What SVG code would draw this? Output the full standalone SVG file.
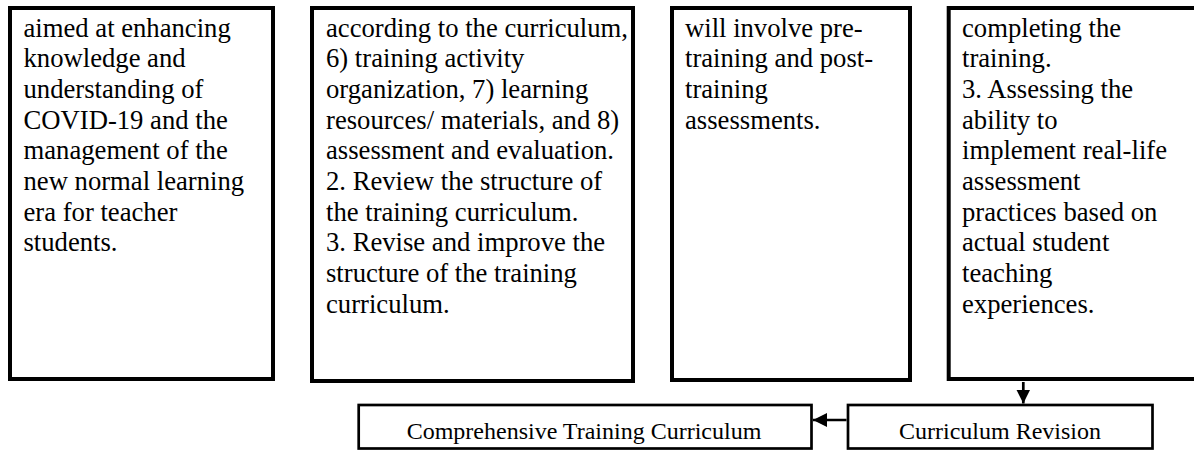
<svg xmlns="http://www.w3.org/2000/svg" width="1194" height="450" viewBox="0 0 1194 450">
<style>
.big{fill:#fff;stroke:#000;stroke-width:4}
.small{fill:#fff;stroke:#000;stroke-width:2.7}
.t{font-family:"Liberation Serif","Times New Roman",serif;font-size:26.67px;fill:#000}
.l{font-family:"Liberation Serif","Times New Roman",serif;font-size:24px;fill:#000;text-anchor:middle}
.c{stroke:#000;stroke-width:2.7;fill:none}
</style>
<defs>
<marker id="ah" viewBox="0 0 10 10" refX="10" refY="5" markerWidth="14" markerHeight="14" markerUnits="userSpaceOnUse" orient="auto">
<path d="M0,0 L10,5 L0,10 z" fill="#000"/>
</marker>
</defs>
<rect width="1194" height="450" fill="#fff"/>
<g id="box1">
<rect class="big" x="10" y="8" width="263" height="371"/>
<text class="t" x="23.5" y="36.7"><tspan x="23.5">aimed at enhancing</tspan><tspan x="23.5" dy="30.67">knowledge and</tspan><tspan x="23.5" dy="30.67">understanding of</tspan><tspan x="23.5" dy="30.67">COVID-19 and the</tspan><tspan x="23.5" dy="30.67">management of the</tspan><tspan x="23.5" dy="30.67">new normal learning</tspan><tspan x="23.5" dy="30.67">era for teacher</tspan><tspan x="23.5" dy="30.67">students.</tspan></text>
</g>
<g id="box2">
<rect class="big" x="312" y="8" width="321" height="373"/>
<text class="t" x="326" y="36.7"><tspan x="326">according to the curriculum,</tspan><tspan x="326" dy="30.67">6) training activity</tspan><tspan x="326" dy="30.67">organization, 7) learning</tspan><tspan x="326" dy="30.67">resources/ materials, and 8)</tspan><tspan x="326" dy="30.67">assessment and evaluation.</tspan><tspan x="326" dy="30.67">2. Review the structure of</tspan><tspan x="326" dy="30.67">the training curriculum.</tspan><tspan x="326" dy="30.67">3. Revise and improve the</tspan><tspan x="326" dy="30.67">structure of the training</tspan><tspan x="326" dy="30.67">curriculum.</tspan></text>
</g>
<g id="box3">
<rect class="big" x="672" y="8" width="238" height="372"/>
<text class="t" x="685" y="36.7"><tspan x="685">will involve pre-</tspan><tspan x="685" dy="30.67">training and post-</tspan><tspan x="685" dy="30.67">training</tspan><tspan x="685" dy="30.67">assessments.</tspan></text>
</g>
<g id="box4">
<rect class="big" x="948.7" y="8" width="260" height="371"/>
<text class="t" x="962" y="36.7"><tspan x="962">completing the</tspan><tspan x="962" dy="30.67">training.</tspan><tspan x="962" dy="30.67">3. Assessing the</tspan><tspan x="962" dy="30.67">ability to</tspan><tspan x="962" dy="30.67">implement real-life</tspan><tspan x="962" dy="30.67">assessment</tspan><tspan x="962" dy="30.67">practices based on</tspan><tspan x="962" dy="30.67">actual student</tspan><tspan x="962" dy="30.67">teaching</tspan><tspan x="962" dy="30.67">experiences.</tspan></text>
</g>
<g id="comprehensive">
<rect class="small" x="358.7" y="405" width="452.8" height="43.5"/>
<text class="l" x="584" y="438.5">Comprehensive Training Curriculum</text>
</g>
<g id="revision">
<rect class="small" x="848" y="405" width="304.5" height="43.5"/>
<text class="l" x="1000" y="438.5">Curriculum Revision</text>
</g>
<g id="connectors">
<line class="c" x1="1023.3" y1="382" x2="1023.3" y2="403.5" marker-end="url(#ah)"/>
<line class="c" x1="846.5" y1="420" x2="813" y2="420" marker-end="url(#ah)"/>
</g>
</svg>
